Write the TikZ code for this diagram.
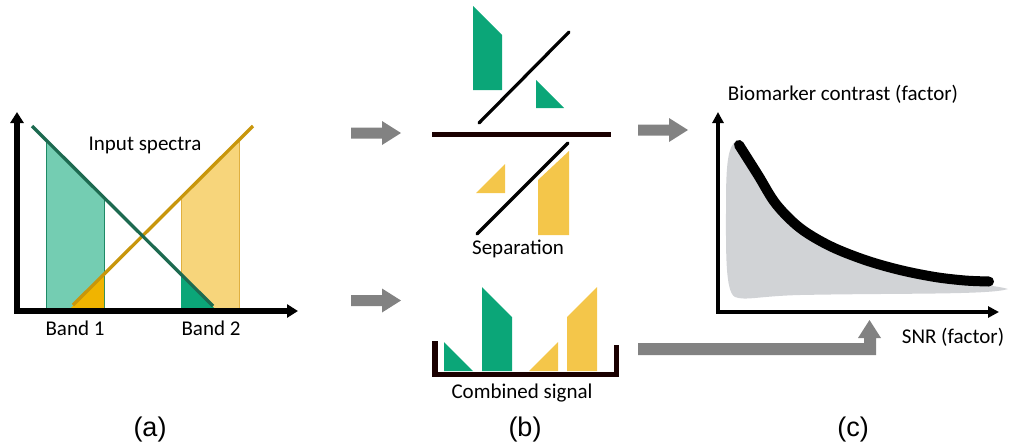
\documentclass[tikz,border=0pt]{standalone}
\usepackage{fontspec}
\setmainfont{Carlito}
\newfontfamily\panelfont{Liberation Sans}
\usetikzlibrary{arrows.meta}

\definecolor{lgreen}{HTML}{74CDB2}
\definecolor{dgreen}{HTML}{1D6A50}
\definecolor{mgreen}{HTML}{0BA678}
\definecolor{edgegreen}{HTML}{1E8A66}
\definecolor{gold}{HTML}{C8960C}
\definecolor{lyellow}{HTML}{F7D57B}
\definecolor{dorange}{HTML}{F0B400}
\definecolor{myellow}{HTML}{F4C64A}
\definecolor{edgeyellow}{HTML}{E0B040}
\definecolor{blockgray}{HTML}{828282}
\definecolor{areagray}{HTML}{D1D3D6}
\definecolor{barblack}{HTML}{1A0000}

\tikzset{
  lbl/.style={font=\fontsize{21}{24}\selectfont, inner sep=0pt},
  panel/.style={font=\panelfont\fontsize{27}{30}\selectfont, inner sep=0pt},
  axisA/.style={line width=5.5pt, -{Triangle[width=13pt,length=11pt]}},
  axisC/.style={line width=3.5pt, -{Triangle[width=11pt,length=11pt]}},
  spec/.style={line width=3.3pt},
  cut/.style={line width=3.2pt, black},
  blockarrow/.style={fill=blockgray, draw=none},
}

\begin{document}
\begin{tikzpicture}[x=1pt, y=-1pt]
\useasboundingbox (0,0) rectangle (1009,445);

% ---------- (a) input spectra ----------
% band fills
\fill[lgreen] (46,309) -- (46,140) -- (104,197.6) -- (104,309) -- cycle;
\fill[lyellow] (181,309) -- (181,197.6) -- (239,140) -- (239,309) -- cycle;
\draw[edgegreen, line width=1pt] (46,309) -- (46,140);
\draw[edgegreen, line width=1pt] (104,309) -- (104,197.6);
\draw[edgeyellow, line width=1pt] (181,309) -- (181,197.6);
\draw[edgeyellow, line width=1pt] (239,309) -- (239,140);
% overlap triangles
\fill[dorange] (70,309) -- (104,274.2) -- (104,309) -- cycle;
\fill[mgreen] (181,274.2) -- (215,309) -- (181,309) -- cycle;
% spectra lines
\coordinate (g0) at (32,126);
\coordinate (g1) at (213,306);
\coordinate (o0) at (73,305);
\coordinate (o1) at (253,126);
\draw[spec, gold] (o0) -- (o1);
\draw[spec, dgreen] (g0) -- (g1);
% axes
\coordinate (aO) at (17,311);
\coordinate (aY) at (17,112);
\coordinate (aX) at (298,311);
\draw[axisA] (aO) -- (aY);
\draw[axisA] ([xshift=-2.75pt]aO) -- (aX);
\node[lbl] (spectra) at (145,145.5) {Input spectra};
\node[lbl] (band1) at (75,328) {Band 1};
\node[lbl] (band2) at (211,328) {Band 2};

% ---------- block arrows ----------
\fill[blockarrow] (351,127.5) -- (382,127.5) -- (382,121) -- (401,133) -- (382,145) -- (382,138.5) -- (351,138.5) -- cycle;
\fill[blockarrow] (351,295) -- (382,295) -- (382,288.5) -- (401,300.5) -- (382,312.5) -- (382,306) -- (351,306) -- cycle;
\fill[blockarrow] (638,124.5) -- (669,124.5) -- (669,118) -- (688,130) -- (669,142) -- (669,135.5) -- (638,135.5) -- cycle;
\fill[blockarrow] (638,343) -- (864,343) -- (864,338) -- (858,338) -- (869.5,320) -- (881,338) -- (876,338) -- (876,355) -- (638,355) -- cycle;

% ---------- (b) separation ----------
\fill[mgreen] (473,6) -- (502,35) -- (502,90) -- (473,90) -- cycle;
\fill[mgreen] (536,80) -- (564,108) -- (536,108) -- cycle;
\coordinate (c1a) at (479,123);
\coordinate (c1b) at (569,32);
\draw[cut, line cap=round] (c1a) -- (c1b);
\coordinate (barL) at (432,134);
\coordinate (barR) at (611,134);
\draw[barblack, line width=5pt] (barL) -- (barR);
\fill[myellow] (505,164) -- (505,193) -- (476,193) -- cycle;
\fill[myellow] (538,180) -- (569,151) -- (569,235) -- (538,235) -- cycle;
\coordinate (c2a) at (477,234);
\coordinate (c2b) at (568,143);
\draw[cut, line cap=round] (c2a) -- (c2b);
\node[lbl] (sep) at (518,249) {Separation};

% combined signal
\fill[mgreen] (444,342) -- (473,371) -- (444,371) -- cycle;
\fill[mgreen] (482,287) -- (512,317) -- (512,371) -- (482,371) -- cycle;
\fill[myellow] (558,342) -- (558,371) -- (529,371) -- cycle;
\fill[myellow] (567,317) -- (597,287) -- (597,371) -- (567,371) -- cycle;
\coordinate (bkL) at (435,341);
\coordinate (bkR) at (616.5,345);
\draw[barblack, line width=5.3pt] (bkL) |- (616.5,374.5) -- (bkR);
\node[lbl] (comb) at (522,393) {Combined signal};

% ---------- (c) contrast vs SNR ----------
\fill[areagray] (737,140) .. controls (758,178) and (790,236) .. (860,263)
  .. controls (920,284) and (985,282) .. (1008,289)
  .. controls (990,295) and (900,293) .. (800,295)
  .. controls (760,296) and (745,301) .. (735,297)
  .. controls (725,292) and (726,250) .. (726,205)
  .. controls (726,162) and (728,146) .. (737,140) -- cycle;
\draw[line width=10pt, line cap=round, black] plot[smooth, tension=0.55] coordinates
  {(739,145) (758,175) (776,204) (800,228) (830,246) (865,260) (900,270) (935,277) (965,280.5) (989,281.5)};
\coordinate (cO) at (718,312);
\coordinate (cY) at (718,112);
\coordinate (cX) at (999,312);
\draw[axisC] (cO) -- (cY);
\draw[axisC] ([xshift=-1.75pt]cO) -- (cX);
\node[lbl] (ylab) at (843,94) {Biomarker contrast (factor)};
\node[lbl] (xlab) at (953,337) {SNR (factor)};

% ---------- panel letters ----------
\node[panel] (pa) at (150,430) {(a)};
\node[panel] (pb) at (525,430) {(b)};
\node[panel] (pc) at (853,430) {(c)};
\end{tikzpicture}
\end{document}
